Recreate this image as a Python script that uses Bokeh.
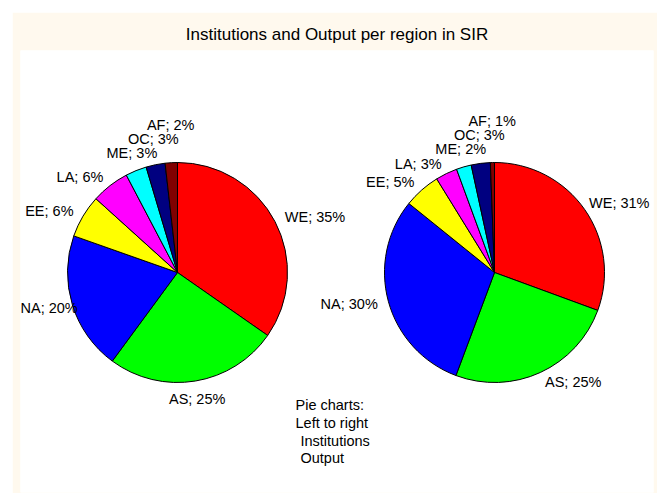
import math
from bokeh.plotting import figure
from bokeh.models import Range1d, ColumnDataSource, Spacer
from bokeh.layouts import column, row
from bokeh.core.properties import value
from bokeh.embed import file_html
from bokeh.resources import INLINE

# ---------------- data ----------------
regions = ["WE", "AS", "NA", "EE", "LA", "ME", "OC", "AF"]
institutions = [34.7, 25.4, 20.3, 6.3, 5.6, 3.1, 2.8, 1.8]
output = [30.6, 25.1, 30.1, 5.4, 3.2, 2.2, 2.8, 0.6]
colors = ["#FF0000", "#00FF00", "#0000FF", "#FFFF00",
          "#FF00FF", "#00FFFF", "#000080", "#800000"]
title_text = "Institutions and Output per region in SIR"
note_lines = ["Pie charts:", "Left to right", " Institutions", " Output"]

# ---------------- layout (page pixel coordinates) ----------------
OFF = 12                                # figure's top-left corner on the page
FIG_W, FIG_H = 645, 481
FL, FR, FT, FB = 20, 653, 50, 492       # frame edges
PIES = [(177, 272), (494, 272)]         # pie centres
RADIUS = 110
FONT = "Liberation Sans"
LABEL_SIZE = 14.5
CREAM = "#FFF9EE"

# Arial / Liberation Sans advance widths (per 1000 em)
CW = {"A": 667, "C": 722, "E": 667, "F": 611, "L": 556, "M": 833, "N": 722,
      "O": 778, "S": 667, "W": 944, ";": 278, " ": 278, "%": 889}


def text_w(s):
    return sum(CW.get(ch, 556) for ch in s) * LABEL_SIZE / 1000.0


def place_labels(vals, cx, cy, r):
    total = sum(vals)
    cum = 0.0
    placed = []
    out = []
    half = LABEL_SIZE / 2.0
    gap = 14
    for name, v in zip(regions, vals):
        mid = 90 - 360.0 * (cum + v / 2.0) / total
        cum += v
        t = math.radians(mid)
        c, s = math.cos(t), math.sin(t)
        ax = cx + 1.1 * r * c
        ay = cy - 1.1 * r * s
        txt = f"{name}; {round(v)}%"
        w = text_w(txt)
        if abs(c) < 0.4:
            x0 = ax - w / 2.0
            yc = ay - half if s > 0 else ay + half
        elif c > 0:
            x0, yc = ax, ay
        else:
            x0, yc = ax - w, ay
        x0 = min(max(x0, FL), FR - 4 - w)
        for (px0, pw, py) in placed:
            if x0 < px0 + pw and px0 < x0 + w and abs(yc - py) < gap:
                yc = py - gap if s > 0 else py + gap
        placed.append((x0, w, yc))
        out.append((x0, yc, txt))
    return out


p = figure(width=FIG_W, height=FIG_H, output_backend="svg", toolbar_location=None,
           x_range=Range1d(FL, FR), y_range=Range1d(-FB, -FT),
           x_axis_type=None, y_axis_type=None,
           min_border_left=FL - OFF, min_border_right=OFF + FIG_W - FR,
           min_border_top=FT - OFF, min_border_bottom=OFF + FIG_H - FB,
           background_fill_color="#FFFFFF", border_fill_color=CREAM,
           outline_line_color=None)
p.xgrid.visible = False
p.ygrid.visible = False

p.title.text = title_text
p.title.align = "center"
p.title.text_font = FONT
p.title.text_font_size = "17px"
p.title.text_font_style = "normal"
p.title.text_color = "#000000"
p.title.standoff = 13

for vals, (cx, cy) in zip([institutions, output], PIES):
    total = sum(vals)
    starts, ends = [], []
    cum = 0.0
    for v in vals:
        starts.append(math.radians(90 - 360.0 * cum / total))
        cum += v
        ends.append(math.radians(90 - 360.0 * cum / total))
    src = ColumnDataSource(dict(x=[cx] * len(vals), y=[-cy] * len(vals),
                                start=starts, end=ends, color=colors))
    p.wedge(x="x", y="y", radius=RADIUS, start_angle="start", end_angle="end",
            direction="clock", fill_color="color", line_color="#000000",
            line_width=1, source=src)

    labs = place_labels(vals, cx, cy, RADIUS)
    lsrc = ColumnDataSource(dict(x=[l[0] for l in labs], y=[-l[1] for l in labs],
                                 text=[l[2] for l in labs]))
    p.text(x="x", y="y", text="text", source=lsrc, text_align="left",
           text_baseline="middle", text_font=value(FONT),
           text_font_size=f"{LABEL_SIZE}px", text_color="#000000")

# note block
nx, ny0, nstep = 295, 404.5, 17.8
nsrc = ColumnDataSource(dict(
    x=[nx + 5 * (len(s) - len(s.lstrip())) for s in note_lines],
    y=[-(ny0 + i * nstep) for i in range(len(note_lines))],
    text=[s.strip() for s in note_lines]))
p.text(x="x", y="y", text="text", source=nsrc, text_align="left",
       text_baseline="middle", text_font=value(FONT),
       text_font_size=f"{LABEL_SIZE}px", text_color="#000000")

layout = column(Spacer(height=OFF), row(Spacer(width=OFF), p))
open("out.html", "w").write(file_html(layout, INLINE))
